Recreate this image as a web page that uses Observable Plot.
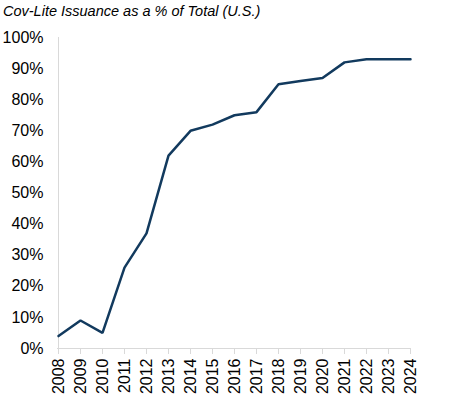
<!DOCTYPE html>
<html>
<head>
<meta charset="utf-8">
<script src="https://cdn.jsdelivr.net/npm/d3@7"></script>
<script src="https://cdn.jsdelivr.net/npm/@observablehq/plot@0.6"></script>
<style>
  html, body { margin: 0; padding: 0; background: #fff; }
  #title { font-family: "Liberation Sans", Arial, sans-serif; font-style: italic; font-size: 14.5px; color: #000; height: 22px; line-height: 22px; padding-left: 3px; }
</style>
</head>
<body>
<div id="title">Cov-Lite Issuance as a % of Total (U.S.)</div>
<div id="chart"></div>
<script>
const years = [2008, 2009, 2010, 2011, 2012, 2013, 2014, 2015, 2016, 2017, 2018, 2019, 2020, 2021, 2022, 2023, 2024];
const covLitePct = [4, 9, 5, 26, 37, 62, 70, 72, 75, 76, 85, 86, 87, 92, 93, 93, 93];
const yTicks = [0, 10, 20, 30, 40, 50, 60, 70, 80, 90, 100];

const data = years.map((y, i) => ({year: y, value: covLitePct[i]}));

const chart = Plot.plot({
  width: 460,
  height: 374,
  marginTop: 15,
  marginLeft: 57,
  marginRight: 50,
  marginBottom: 48,
  style: {fontFamily: '"Liberation Sans", Arial, sans-serif', fontSize: "16px", color: "#000", background: "#fff"},
  x: {type: "point", domain: years, padding: 0},
  y: {domain: [0, 100]},
  marks: [
    Plot.ruleX([years[0]], {stroke: "#d9d9d9", strokeWidth: 1}),
    Plot.ruleY([0], {stroke: "#d9d9d9", strokeWidth: 1}),
    Plot.axisY({ticks: yTicks, tickSize: 0, tickPadding: 14, tickFormat: d => d + "%", label: null, fill: "#000"}),
    Plot.axisX({ticks: years, tickSize: 6, tickRotate: -90, tickPadding: 4, tickFormat: d => String(d), label: null, stroke: "#d9d9d9", fill: "#000"}),
    Plot.line(data, {x: "year", y: "value", stroke: "#123a5e", strokeWidth: 2.5, strokeLinejoin: "miter"})
  ]
});
document.getElementById("chart").appendChild(chart);
</script>
</body>
</html>
